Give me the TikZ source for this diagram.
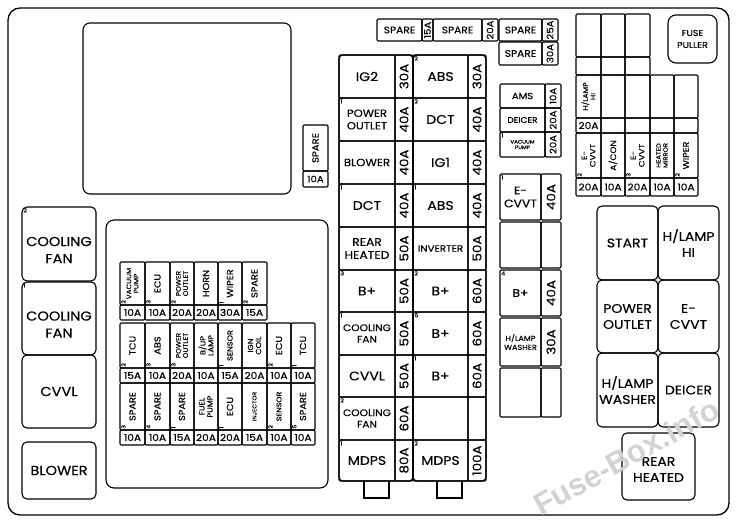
\documentclass[tikz,border=0pt]{standalone}
\usepackage{fontspec}
\setmainfont{Poppins}[FakeBold=0.35,FakeStretch=1.12]
\newcommand\fz[2]{\fontsize{#1}{#2}\selectfont}
\tikzset{
  x=1pt,y=-1pt,
  cellb/.style={draw, line width=1.1pt, rounded corners=1.2pt, inner sep=0pt, outer sep=0pt, align=center},
  num/.style={inner sep=1.2pt, font=\fz{5.5}{6}},
  lbig/.style={font=\fz{13}{17}},
  lmain/.style={font=\fz{12.5}{15}},
  lmid/.style={font=\fz{11}{13}},
  lsm/.style={font=\fz{9.5}{11.5}},
  sfl/.style={font=\fz{8.7}{9}},
  sft/.style={font=\fz{6.5}{7.2}},
  amp/.style={font=\fz{12}{12}},
  ampsm/.style={font=\fz{9}{9}},
  ampf/.style={font=\fz{9.5}{10}},
  relay/.style={rounded corners=5pt,font=\fz{12.5}{16}},
}
\newcommand{\fb}[7][]{\node[cellb,#1,minimum width={(#5-#3)*1pt},minimum height={(#6-#4)*1pt}] (#2) at ({(#3+#5)/2},{(#4+#6)/2}) {#7};}
\newcommand{\fr}[7][]{\node[cellb,rotate=90,#1,minimum width={(#6-#4)*1pt},minimum height={(#5-#3)*1pt}] (#2) at ({(#3+#5)/2},{(#4+#6)/2}) {#7};}
\newcommand{\nm}[3][]{\node[num,anchor=north west,#1] (#2-n) at (#2.north west) {#3};}
\begin{document}
\begin{tikzpicture}
\useasboundingbox (0,0) rectangle (740,521);
% outer frame
\node[draw,line width=1.3pt,rounded corners=12pt,minimum width=721pt,minimum height=507pt,inner sep=0pt] (frame) at (368.5,261.5) {};
% big empty rectangle
\fb[rounded corners=7pt]{bigrect}{83}{23}{291}{194}{}
% spare 10A
\fr[ampsm]{sp10}{303}{125}{328}{171}{SPARE}
\fb[ampsm]{sp10a}{303}{171}{328}{187}{10A}
% lower left panel
\fb[rounded corners=8pt]{panel}{106}{220}{328}{488}{}
% left boxes
\fb[rounded corners=5pt]{cf2}{22}{207}{96}{281}{}
\node[lbig,align=center] (cf2t) at ([yshift=-6pt]cf2.center) {COOLING\\FAN}; \nm{cf2}{2}
\fb[rounded corners=5pt]{cf1}{22}{282}{96}{355}{}
\node[lbig,align=center] (cf1t) at ([yshift=-6pt]cf1.center) {COOLING\\FAN}; \nm{cf1}{1}
\fb[rounded corners=5pt,lbig]{cvvl}{22}{355}{96}{428}{CVVL}
\fb[rounded corners=5pt,lbig]{blower}{22}{442}{96}{499}{BLOWER}
% main column outer blocks
\fb[rounded corners=4pt]{mainL}{339}{55}{413}{481}{}
\fb[rounded corners=4pt]{mainR}{413}{55}{486}{481}{}
% row 1
\fb[lmain]{m1a}{339}{55}{395}{98}{IG2}
\fr[amp]{m1b}{395}{55}{413}{98}{30A}
\fb[lmain]{m1c}{413}{55}{468}{98}{ABS} \nm{m1c}{2}
\fr[amp]{m1d}{468}{55}{486}{98}{30A}
% row 2
\fb[font=\fz{10.3}{12.5}]{m2a}{339}{98}{395}{141}{POWER\\OUTLET} \nm{m2a}{1}
\fr[amp]{m2b}{395}{98}{413}{141}{40A}
\fb[lmain]{m2c}{413}{98}{468}{141}{DCT} \nm{m2c}{2}
\fr[amp]{m2d}{468}{98}{486}{141}{40A}
% row 3
\fb[font=\fz{10.5}{12}]{m3a}{339}{141}{395}{184}{BLOWER}
\fr[amp]{m3b}{395}{141}{413}{184}{40A}
\fb[lmain]{m3c}{413}{141}{468}{184}{IG1}
\fr[amp]{m3d}{468}{141}{486}{184}{40A}
% row 4
\fb[lmain]{m4a}{339}{184}{395}{227}{DCT} \nm{m4a}{1}
\fr[amp]{m4b}{395}{184}{413}{227}{40A}
\fb[lmain]{m4c}{413}{184}{468}{227}{ABS} \nm{m4c}{1}
\fr[amp]{m4d}{468}{184}{486}{227}{40A}
% row 5
\fb[lmid]{m5a}{339}{227}{395}{270}{REAR\\HEATED}
\fr[amp]{m5b}{395}{227}{413}{270}{50A}
\fb[font=\fz{9.2}{10}]{m5c}{413}{227}{468}{270}{INVERTER}
\fr[amp]{m5d}{468}{227}{486}{270}{50A}
% row 6
\fb[lmain]{m6a}{339}{270}{395}{312}{B+} \nm{m6a}{3}
\fr[amp]{m6b}{395}{270}{413}{312}{50A}
\fb[lmain]{m6c}{413}{270}{468}{312}{B+} \nm{m6c}{2}
\fr[amp]{m6d}{468}{270}{486}{312}{60A}
% row 7
\fb[lsm]{m7a}{339}{312}{395}{355}{COOLING\\FAN} \nm{m7a}{1}
\fr[amp]{m7b}{395}{312}{413}{355}{50A}
\fb[lmain]{m7c}{413}{312}{468}{355}{B+} \nm{m7c}{5}
\fr[amp]{m7d}{468}{312}{486}{355}{60A}
% row 8
\fb[lmain]{m8a}{339}{355}{395}{397}{CVVL}
\fr[amp]{m8b}{395}{355}{413}{397}{50A}
\fb[lmain]{m8c}{413}{355}{468}{397}{B+} \nm{m8c}{1}
\fr[amp]{m8d}{468}{355}{486}{397}{60A}
% row 9
\fb[lsm]{m9a}{339}{397}{395}{440}{COOLING\\FAN} \nm{m9a}{2}
\fr[amp]{m9b}{395}{397}{413}{440}{60A}
\fb{m9c}{413}{397}{468}{440}{}
\fr{m9d}{468}{397}{486}{440}{}
% row 10
\fb[lmain]{m10a}{339}{440}{395}{481}{MDPS} \nm{m10a}{1}
\fr[amp]{m10b}{395}{440}{413}{481}{80A}
\fb[lmain]{m10c}{413}{440}{468}{481}{MDPS} \nm{m10c}{2}
\fr[amp]{m10d}{468}{440}{486}{481}{100A}
% tabs
\draw[line width=1.1pt] (364,481) -- (364,498) -- (389,498) -- (389,481);
\draw[line width=1.1pt] (437,481) -- (437,498) -- (462,498) -- (462,481);
% top spares
\fb[font=\fz{9.5}{10}]{s1}{377}{19}{422}{41}{SPARE}
\fr[ampsm]{s1a}{422}{19}{433}{41}{15A}
\fb[font=\fz{9.5}{10}]{s2}{433}{19}{482}{41}{SPARE}
\fr[ampsm]{s2a}{482}{19}{498}{41}{20A}
\fb[font=\fz{9.5}{10}]{s3}{499}{19}{542}{41}{SPARE}
\fr[ampsm]{s3a}{542}{19}{558}{41}{25A}
\fb[font=\fz{9.5}{10}]{s4}{499}{42}{542}{65}{SPARE}
\fr[ampsm]{s4a}{542}{42}{558}{65}{30A}
% AMS block
\fb[font=\fz{9}{9}]{ams}{500}{84}{545}{108}{AMS}
\fr[ampsm]{amsa}{545}{84}{561}{108}{10A}
\fb[font=\fz{8}{8}]{dei}{500}{108}{545}{132}{DEICER}
\fr[ampsm]{deia}{545}{108}{561}{132}{20A}
\fb[font=\fz{5}{5.5}]{vac}{500}{132}{545}{157}{VACUUM\\PUMP} \nm{vac}{1}
\fr[ampsm]{vaca}{545}{132}{561}{157}{20A}
% E-CVVT column
\fb[font=\fz{11}{13}]{ec}{500}{174}{541}{220}{E-\\CVVT} \nm{ec}{1}
\fr[amp]{eca}{541}{174}{561}{220}{40A}
\fb{emp}{500}{222}{541}{268}{}
\fr{empa}{541}{222}{561}{268}{}
\fb[font=\fz{11}{13}]{bp4}{500}{270}{541}{316}{B+} \nm{bp4}{4}
\fr[amp]{bp4a}{541}{270}{561}{316}{40A}
\fb[font=\fz{7.2}{9}]{hlw}{500}{318}{541}{366}{H/LAMP\\WASHER}
\fr[amp]{hlwa}{541}{318}{561}{366}{30A}
\fb{emp2}{500}{368}{541}{417}{}
\fr{emp2a}{541}{368}{561}{417}{}
% top right grid
\fb{g11}{576}{14}{601}{57}{}
\fb{g12}{601}{14}{625}{57}{}
\fb{g13}{625}{14}{650}{57}{}
\fb{g21}{576}{57}{601}{75}{}
\fb{g22}{601}{57}{625}{75}{}
\fb{g23}{625}{57}{650}{75}{}
\fr[font=\fz{6.8}{7.5}]{g31}{576}{75}{601}{118}{H/LAMP\\HI}
\fb{g32}{601}{75}{625}{118}{}
\fb{g33}{625}{75}{650}{118}{}
\fb{g34}{650}{75}{674}{118}{}
\fb{g35}{674}{75}{698}{118}{}
\fb[ampf]{g41}{576}{118}{601}{133}{20A}
\fb{g42}{601}{118}{625}{133}{}
\fb{g43}{625}{118}{650}{133}{}
\fb{g44}{650}{118}{674}{133}{}
\fb{g45}{674}{118}{698}{133}{}
\fr[font=\fz{7.8}{8.5}]{g51}{576}{133}{601}{178}{E-\\CVVT} \nm[rotate=90]{g51}{2}
\fr[font=\fz{8}{8.5}]{g52}{601}{133}{625}{178}{A/CON}
\fr[font=\fz{7.8}{8.5}]{g53}{625}{133}{650}{178}{E-\\CVVT} \nm[rotate=90]{g53}{3}
\fr[font=\fz{6}{7}]{g54}{650}{133}{674}{178}{HEATED\\MIRROR}
\fr[font=\fz{8.5}{8.5}]{g55}{674}{133}{698}{178}{WIPER} \nm[rotate=90]{g55}{2}
\fb[ampf]{g61}{576}{178}{601}{196}{20A}
\fb[ampf]{g62}{601}{178}{625}{196}{10A}
\fb[ampf]{g63}{625}{178}{650}{196}{20A}
\fb[ampf]{g64}{650}{178}{674}{196}{10A}
\fb[ampf]{g65}{674}{178}{698}{196}{10A}
% fuse puller
\fb[rounded corners=8pt,font=\fz{8.5}{12}]{puller}{668}{15}{717}{63}{FUSE\\PULLER}
% relays
\fb[relay]{start}{597}{206}{658}{280}{START}
\fb[relay]{hlhi}{658}{206}{719}{280}{H/LAMP\\HI}
\fb[relay]{pout}{597}{280}{658}{353}{POWER\\OUTLET}
\fb[relay]{ecv}{658}{280}{719}{353}{E-\\CVVT}
\fb[relay]{hlwash}{597}{353}{658}{427}{H/LAMP\\WASHER}
\fb[relay]{deicer}{658}{353}{719}{427}{DEICER}
\fb[relay]{rear}{622}{433}{695}{500}{}
\node[font=\fz{12.5}{16},align=center] (reart) at ([yshift=-3pt]rear.center) {REAR\\HEATED};
% small fuses row A
\fr[sft]{a1}{120}{262}{145}{305}{VACUUM\\PUMP} \nm[rotate=90]{a1}{2}
\fr[sfl]{a2}{145}{262}{170}{305}{ECU} \nm[rotate=90]{a2}{3}
\fr[sft]{a3}{170}{262}{194}{305}{POWER\\OUTLET} \nm[rotate=90]{a3}{2}
\fr[sfl]{a4}{194}{262}{218}{305}{HORN}
\fr[sfl]{a5}{218}{262}{242}{305}{WIPER} \nm[rotate=90]{a5}{1}
\fr[sfl]{a6}{242}{262}{267}{305}{SPARE} \nm[rotate=90]{a6}{2}
\fb[ampf]{a1a}{120}{305}{145}{320}{10A}
\fb[ampf]{a2a}{145}{305}{170}{320}{10A}
\fb[ampf]{a3a}{170}{305}{194}{320}{20A}
\fb[ampf]{a4a}{194}{305}{218}{320}{20A}
\fb[ampf]{a5a}{218}{305}{242}{320}{30A}
\fb[ampf]{a6a}{242}{305}{267}{320}{15A}
% row B
\fr[sfl]{b1}{120}{323}{145}{368}{TCU} \nm[rotate=90]{b1}{2}
\fr[sfl]{b2}{145}{323}{170}{368}{ABS} \nm[rotate=90]{b2}{3}
\fr[sft]{b3}{170}{323}{194}{368}{POWER\\OUTLET} \nm[rotate=90]{b3}{3}
\fr[font=\fz{7.3}{8}]{b4}{194}{323}{218}{368}{B/UP\\LAMP}
\fr[font=\fz{7.3}{8}]{b5}{218}{323}{242}{368}{SENSOR} \nm[rotate=90]{b5}{1}
\fr[font=\fz{7.3}{8}]{b6}{242}{323}{267}{368}{IGN\\COIL}
\fr[sfl]{b7}{267}{323}{291}{368}{ECU} \nm[rotate=90]{b7}{2}
\fr[sfl]{b8}{291}{323}{315}{368}{TCU} \nm[rotate=90]{b8}{1}
\fb[ampf]{b1a}{120}{368}{145}{383}{15A}
\fb[ampf]{b2a}{145}{368}{170}{383}{10A}
\fb[ampf]{b3a}{170}{368}{194}{383}{20A}
\fb[ampf]{b4a}{194}{368}{218}{383}{10A}
\fb[ampf]{b5a}{218}{368}{242}{383}{15A}
\fb[ampf]{b6a}{242}{368}{267}{383}{20A}
\fb[ampf]{b7a}{267}{368}{291}{383}{10A}
\fb[ampf]{b8a}{291}{368}{315}{383}{10A}
% row C
\fr[sfl]{c1}{120}{383}{145}{430}{SPARE} \nm[rotate=90]{c1}{3}
\fr[sfl]{c2}{145}{383}{170}{430}{SPARE} \nm[rotate=90]{c2}{4}
\fr[sfl]{c3}{170}{383}{194}{430}{SPARE} \nm[rotate=90]{c3}{1}
\fr[font=\fz{7.3}{8}]{c4}{194}{383}{218}{430}{FUEL\\PUMP}
\fr[sfl]{c5}{218}{383}{242}{430}{ECU} \nm[rotate=90]{c5}{1}
\fr[font=\fz{5.6}{6}]{c6}{242}{383}{267}{430}{INJECTOR}
\fr[font=\fz{7}{7}]{c7}{267}{383}{291}{430}{SENSOR} \nm[rotate=90]{c7}{2}
\fr[sfl]{c8}{291}{383}{315}{430}{SPARE} \nm[rotate=90]{c8}{5}
\fb[ampf]{c1a}{120}{430}{145}{445}{10A}
\fb[ampf]{c2a}{145}{430}{170}{445}{10A}
\fb[ampf]{c3a}{170}{430}{194}{445}{15A}
\fb[ampf]{c4a}{194}{430}{218}{445}{20A}
\fb[ampf]{c5a}{218}{430}{242}{445}{20A}
\fb[ampf]{c6a}{242}{430}{267}{445}{15A}
\fb[ampf]{c7a}{267}{430}{291}{445}{10A}
\fb[ampf]{c8a}{291}{430}{315}{445}{10A}
% watermark
\node[rotate=29,font=\fontspec{Liberation Sans}\bfseries\fz{31}{31},text=gray!35] (wm) at (626,457) {Fuse-Box.info};
\end{tikzpicture}
\end{document}
